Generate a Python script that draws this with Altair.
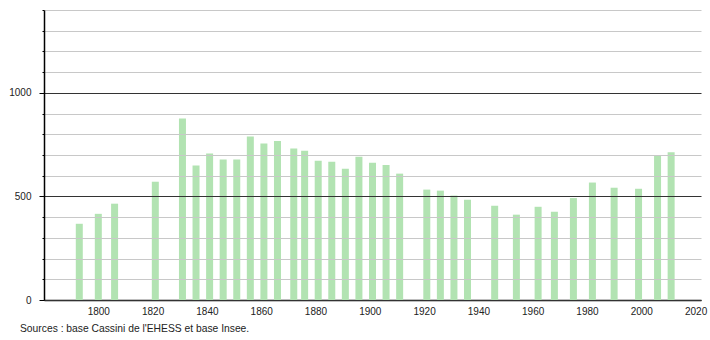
import altair as alt
import pandas as pd

years = [1793, 1800, 1806, 1821, 1831, 1836, 1841, 1846, 1851, 1856, 1861, 1866,
         1872, 1876, 1881, 1886, 1891, 1896, 1901, 1906, 1911, 1921, 1926, 1931,
         1936, 1946, 1954, 1962, 1968, 1975, 1982, 1990, 1999, 2006, 2011]
population = [368, 416, 465, 571, 876, 649, 707, 678, 678, 789, 755, 768,
              731, 721, 672, 668, 634, 692, 663, 652, 610, 533, 528, 504,
              484, 455, 412, 450, 426, 492, 567, 542, 537, 700, 713]
x_ticks = [1800, 1820, 1840, 1860, 1880, 1900, 1920, 1940, 1960, 1980, 2000, 2020]
y_ticks = list(range(0, 1500, 100))
source = "Sources : base Cassini de l'EHESS et base Insee."

df = pd.DataFrame({"year": years, "pop": population})
FONT = "Liberation Sans"

bars = alt.Chart(df).mark_bar(width=7, color="#b2e3b2").encode(
    x=alt.X("year:Q", scale=alt.Scale(domain=[1780, 2022], nice=False, zero=False, padding=0),
            axis=alt.Axis(values=x_ticks, format="d", title=None, ticks=False, grid=False,
                          domainColor="#000", domainWidth=1.5, labelFont=FONT, labelFontSize=10,
                          labelColor="#222", labelPadding=6)),
    y=alt.Y("pop:Q", scale=alt.Scale(domain=[0, 1400], nice=False),
            axis=alt.Axis(values=y_ticks, format="d", title=None,
                          labelExpr="datum.value % 500 === 0 ? datum.label : ''",
                          tickSize=alt.condition("datum.value % 500 === 0", alt.value(5), alt.value(2)),
                          tickColor="#000", domainColor="#000", domainWidth=1.5,
                          gridColor=alt.condition("datum.value % 500 === 0", alt.value("#333"), alt.value("#c8c8c8")),
                          gridWidth=1, labelFont=FONT, labelFontSize=10, labelColor="#222",
                          labelPadding=8, zindex=1)),
)

src = alt.Chart(pd.DataFrame({"t": [source]})).mark_text(
    align="left", baseline="middle", font=FONT, fontSize=10.3, color="#222"
).encode(x=alt.value(-24), y=alt.value(319), text="t:N")

chart = alt.layer(bars, src).properties(
    width=657, height=290,
    autosize=alt.AutoSizeParams(type="none"),
    padding={"left": 44, "top": 10, "right": 9, "bottom": 40},
).configure_view(stroke=None)

chart.save("out.html", embed_options={"renderer": "svg", "actions": False})
